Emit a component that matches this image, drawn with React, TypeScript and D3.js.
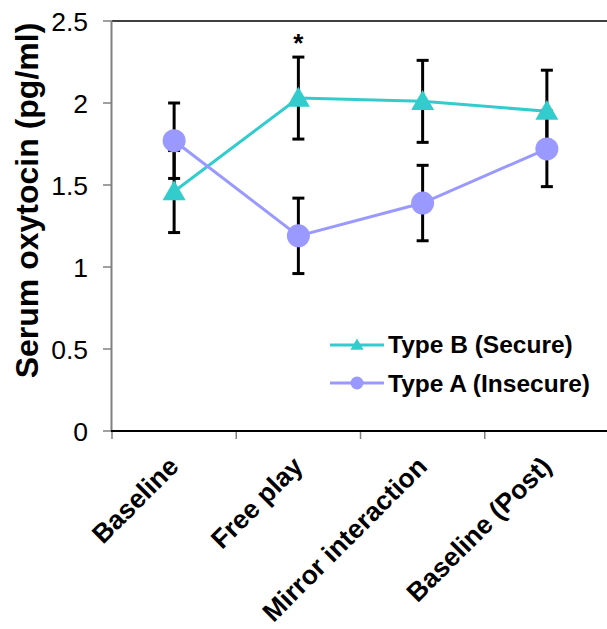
import React from "react";
import * as d3 from "d3";

const categories = ["Baseline", "Free play", "Mirror interaction", "Baseline (Post)"];
const typeBValues = [1.46, 2.03, 2.01, 1.95];
const typeBErrors = [0.25, 0.25, 0.25, 0.25];
const typeAValues = [1.77, 1.19, 1.39, 1.72];
const typeAErrors = [0.23, 0.23, 0.23, 0.23];
const yTicks = [0, 0.5, 1, 1.5, 2, 2.5];
const yTickLabels = ["0", "0.5", "1", "1.5", "2", "2.5"];
const seriesNames = ["Type B (Secure)", "Type A (Insecure)"];
const significance = ["", "*", "", ""];

const W = 607;
const H = 629;
const TEAL = "#33CCCC";
const LAV = "#9999FF";
const FONT = "Arial, 'Liberation Sans', sans-serif";

export default function App() {
  const x = d3.scaleBand<string>().domain(categories).range([112, 609]).paddingInner(0).paddingOuter(0);
  const y = d3.scaleLinear().domain([0, 2.5]).range([431, 21]);
  const cx = (c: string) => (x(c) as number) + x.bandwidth() / 2;

  const line = d3
    .line<number>()
    .x((_, i) => cx(categories[i]))
    .y((d) => y(d));

  const tri = d3.symbol().type(d3.symbolTriangle).size(230)();
  const triSmall = d3.symbol().type(d3.symbolTriangle).size(75)();

  const errBars = (vals: number[], errs: number[], key: string) =>
    vals.map((v, i) => {
      const px = cx(categories[i]);
      const top = y(v + errs[i]);
      const bot = y(v - errs[i]);
      return (
        <g key={key + i} stroke="#000" strokeWidth={3}>
          <line x1={px} x2={px} y1={top} y2={bot} />
          <line x1={px - 6} x2={px + 6} y1={top} y2={top} />
          <line x1={px - 6} x2={px + 6} y1={bot} y2={bot} />
        </g>
      );
    });

  return (
    <div style={{ position: "absolute", left: 0, top: 0 }}>
      <svg width={W} height={H} style={{ display: "block" }} fontFamily={FONT}>
        <rect width={W} height={H} fill="#fff" />
        {/* top border */}
        <line x1={112} x2={W} y1={21} y2={21} stroke="#000" strokeWidth={1.5} />
        {/* y axis */}
        <line x1={111.5} x2={111.5} y1={21} y2={431} stroke="#808080" strokeWidth={2} />
        {yTicks.map((t, i) => (
          <g key={"yt" + i}>
            <line x1={103} x2={112} y1={y(t)} y2={y(t)} stroke="#808080" strokeWidth={1.5} />
            <text x={88} y={y(t)} dy="0.36em" textAnchor="end" fontSize={26.5} fill="#000">
              {yTickLabels[i]}
            </text>
          </g>
        ))}
        {/* x axis */}
        {[...categories.map((c) => x(c) as number), 609].map((p, i) => (
          <line key={"xt" + i} x1={p} x2={p} y1={431} y2={439} stroke="#808080" strokeWidth={1.5} />
        ))}
        <line x1={111} x2={W} y1={431} y2={431} stroke="#000" strokeWidth={2} />
        {categories.map((c, i) => {
          const ax = cx(c) + 6;
          const ay = 468;
          return (
            <text
              key={"xl" + i}
              x={ax}
              y={ay}
              transform={`rotate(-45 ${ax} ${ay})`}
              textAnchor="end"
              fontSize={26.5}
              fontWeight="bold"
              fill="#000"
            >
              {c}
            </text>
          );
        })}
        {/* y title */}
        <text
          transform={`translate(38 ${(21 + 380) / 2}) rotate(-90)`}
          textAnchor="middle"
          fontSize={32}
          fontWeight="bold"
          fill="#000"
        >
          Serum oxytocin (pg/ml)
        </text>

        {/* lines */}
        <path d={line(typeBValues) as string} fill="none" stroke={TEAL} strokeWidth={3} />
        <path d={line(typeAValues) as string} fill="none" stroke={LAV} strokeWidth={3} />
        {/* error bars */}
        {errBars(typeBValues, typeBErrors, "eb")}
        {errBars(typeAValues, typeAErrors, "ea")}
        {/* markers */}
        {typeBValues.map((v, i) => (
          <path key={"mb" + i} d={tri as string} transform={`translate(${cx(categories[i])} ${y(v) + 2})`} fill={TEAL} />
        ))}
        {typeAValues.map((v, i) => (
          <circle key={"ma" + i} cx={cx(categories[i])} cy={y(v)} r={11.5} fill={LAV} />
        ))}
        {/* significance */}
        {significance.map((s, i) =>
          s ? (
            <text key={"sig" + i} x={cx(categories[i])} y={52} textAnchor="middle" fontSize={26} fontWeight="bold" fill="#000">
              {s}
            </text>
          ) : null
        )}

        {/* legend */}
        <line x1={330} x2={384} y1={345} y2={345} stroke={TEAL} strokeWidth={3} />
        <path d={triSmall as string} transform={`translate(357 346)`} fill={TEAL} />
        <text x={388} y={353} fontSize={24.5} fontWeight="bold" fill="#000">
          {seriesNames[0]}
        </text>
        <line x1={330} x2={384} y1={383} y2={383} stroke={LAV} strokeWidth={3} />
        <circle cx={357} cy={383} r={6.5} fill={LAV} />
        <text x={388} y={391.5} fontSize={24.5} fontWeight="bold" fill="#000">
          {seriesNames[1]}
        </text>
      </svg>
    </div>
  );
}
